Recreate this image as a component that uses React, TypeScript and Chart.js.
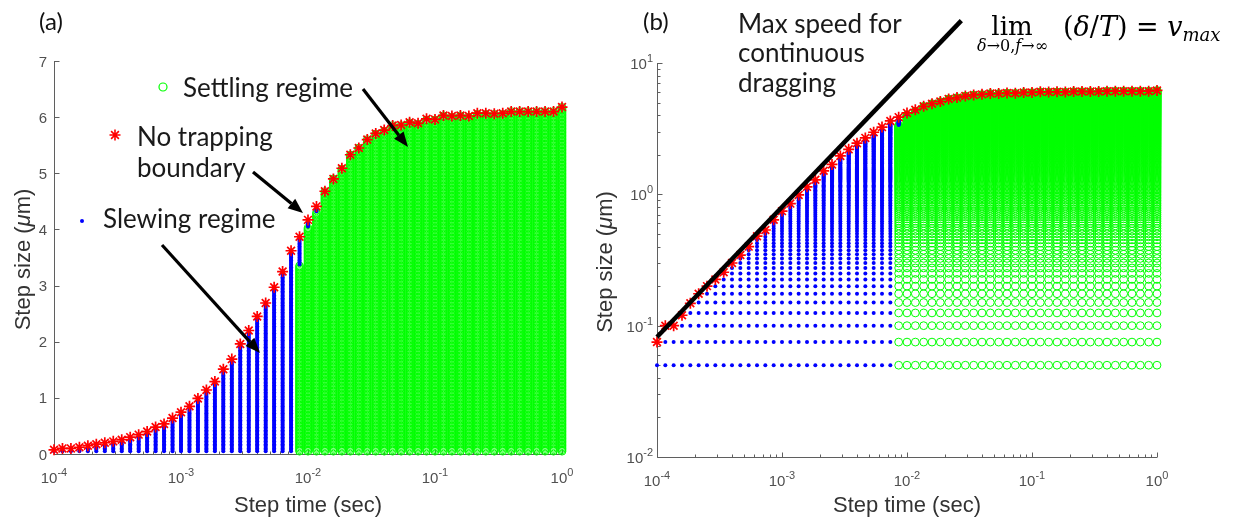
import React, { useEffect, useRef } from "react";
import { Chart, registerables } from "chart.js";

Chart.register(...registerables);

// ---------------- data ----------------
// step times (sec), 15 per decade from 1e-4 to 1
const stepTimes: number[] = [
  1.0e-4, 1.166e-4, 1.359e-4, 1.585e-4, 1.848e-4, 2.154e-4, 2.512e-4, 2.929e-4, 3.415e-4, 3.981e-4, 4.642e-4, 5.412e-4, 6.31e-4, 7.356e-4, 8.577e-4,
  1.0e-3, 1.166e-3, 1.359e-3, 1.585e-3, 1.848e-3, 2.154e-3, 2.512e-3, 2.929e-3, 3.415e-3, 3.981e-3, 4.642e-3, 5.412e-3, 6.31e-3, 7.356e-3, 8.577e-3,
  1.0e-2, 1.166e-2, 1.359e-2, 1.585e-2, 1.848e-2, 2.154e-2, 2.512e-2, 2.929e-2, 3.415e-2, 3.981e-2, 4.642e-2, 5.412e-2, 6.31e-2, 7.356e-2, 8.577e-2,
  1.0e-1, 1.166e-1, 1.359e-1, 1.585e-1, 1.848e-1, 2.154e-1, 2.512e-1, 2.929e-1, 3.415e-1, 3.981e-1, 4.642e-1, 5.412e-1, 6.31e-1, 7.356e-1, 8.577e-1,
  1.0,
];

// no-trapping boundary step size (um) for each step time
const noTrappingBoundary: number[] = [
  0.075, 0.1, 0.1, 0.12, 0.148, 0.175, 0.2, 0.225, 0.255, 0.3,
  0.345, 0.4, 0.48, 0.535, 0.64, 0.745, 0.85, 0.99, 1.14, 1.29,
  1.51, 1.69, 1.96, 2.2, 2.45, 2.69, 2.97, 3.25, 3.62, 3.87,
  4.17, 4.41, 4.68, 4.9, 5.09, 5.33, 5.45, 5.6, 5.71, 5.77,
  5.85, 5.86, 5.91, 5.89, 5.97, 5.96, 6.03, 6.02, 6.03, 6.02,
  6.07, 6.07, 6.06, 6.07, 6.1, 6.1, 6.1, 6.1, 6.1, 6.1,
  6.18,
];

// simulated step sizes (um)
const stepSizeLevels: number[] = [
  0.05, 0.075, 0.1, 0.125, 0.15, 0.175, 0.2, 0.225,
  0.25, 0.275, 0.3, 0.325, 0.35, 0.375, 0.4, 0.425, 0.45, 0.475,
  0.5, 0.525, 0.55, 0.575, 0.6, 0.625, 0.65, 0.675, 0.7, 0.725,
  0.75, 0.775, 0.8, 0.825, 0.85, 0.875, 0.9, 0.925, 0.95, 0.975,
  1, 1.025, 1.05, 1.075, 1.1, 1.125, 1.15, 1.175, 1.2, 1.225,
  1.25, 1.275, 1.3, 1.325, 1.35, 1.375, 1.4, 1.425, 1.45, 1.475,
  1.5, 1.525, 1.55, 1.575, 1.6, 1.625, 1.65, 1.675, 1.7, 1.725,
  1.75, 1.775, 1.8, 1.825, 1.85, 1.875, 1.9, 1.925, 1.95, 1.975,
  2, 2.025, 2.05, 2.075, 2.1, 2.125, 2.15, 2.175, 2.2, 2.225,
  2.25, 2.275, 2.3, 2.325, 2.35, 2.375, 2.4, 2.425, 2.45, 2.475,
  2.5, 2.525, 2.55, 2.575, 2.6, 2.625, 2.65, 2.675, 2.7, 2.725,
  2.75, 2.775, 2.8, 2.825, 2.85, 2.875, 2.9, 2.925, 2.95, 2.975,
  3, 3.025, 3.05, 3.075, 3.1, 3.125, 3.15, 3.175, 3.2, 3.225,
  3.25, 3.275, 3.3, 3.325, 3.35, 3.375, 3.4, 3.425, 3.45, 3.475,
  3.5, 3.525, 3.55, 3.575, 3.6, 3.625, 3.65, 3.675, 3.7, 3.725,
  3.75, 3.775, 3.8, 3.825, 3.85, 3.875, 3.9, 3.925, 3.95, 3.975,
  4, 4.025, 4.05, 4.075, 4.1, 4.125, 4.15, 4.175, 4.2, 4.225,
  4.25, 4.275, 4.3, 4.325, 4.35, 4.375, 4.4, 4.425, 4.45, 4.475,
  4.5, 4.525, 4.55, 4.575, 4.6, 4.625, 4.65, 4.675, 4.7, 4.725,
  4.75, 4.775, 4.8, 4.825, 4.85, 4.875, 4.9, 4.925, 4.95, 4.975,
  5, 5.025, 5.05, 5.075, 5.1, 5.125, 5.15, 5.175, 5.2, 5.225,
  5.25, 5.275, 5.3, 5.325, 5.35, 5.375, 5.4, 5.425, 5.45, 5.475,
  5.5, 5.525, 5.55, 5.575, 5.6, 5.625, 5.65, 5.675, 5.7, 5.725,
  5.75, 5.775, 5.8, 5.825, 5.85, 5.875, 5.9, 5.925, 5.95, 5.975,
  6, 6.025, 6.05, 6.075, 6.1, 6.125, 6.15, 6.175,
];

// columns from this index on settle; the first few keep slewing points at the top
const settlingStartIndex = 29;
const transitionSettlingTop: number[] = [3.35, 4.025, 4.3];

// max speed for continuous dragging (panel b)
const maxSpeedTimes: number[] = [1.0e-4, 0.0272];
const maxSpeedSizes: number[] = [0.082, 21.0];

// axis ticks
const linearSizeTicks: number[] = [0, 1, 2, 3, 4, 5, 6, 7];
const logTimeTicks: number[] = [1e-4, 1e-3, 1e-2, 1e-1, 1];
const logTimeTickExps: string[] = ["-4", "-3", "-2", "-1", "0"];
const logSizeTicks: number[] = [1e-2, 1e-1, 1, 10];
const logSizeTickExps: string[] = ["-2", "-1", "0", "1"];

// ---------------- build point sets ----------------
type P = { x: number; y: number };
function splitRegimes() {
  const slewing: P[] = [];
  const settling: P[] = [];
  stepTimes.forEach((t, i) => {
    const top = noTrappingBoundary[i];
    let settleTop = -Infinity;
    if (i >= settlingStartIndex) {
      const tr = transitionSettlingTop[i - settlingStartIndex];
      settleTop = tr === undefined ? Infinity : tr;
    }
    for (const L of stepSizeLevels) {
      if (L > top + 1e-9) break;
      if (L <= settleTop + 1e-9) settling.push({ x: t, y: L });
      else slewing.push({ x: t, y: L });
    }
  });
  const boundary: P[] = stepTimes.map((t, i) => ({ x: t, y: noTrappingBoundary[i] }));
  return { slewing, settling, boundary };
}

// ---------------- drawing helpers ----------------
const UI_FONT = '"Liberation Sans", Arial, sans-serif';
const NOTE_FONT = 'Lato, "Open Sans", sans-serif';
const MATH_FONT = '"DejaVu Serif", "Liberation Serif", serif';
const AXIS_COLOR = "#5f5f5f";
const LABEL_COLOR = "#505050";
const TITLE_COLOR = "#333333";
const OFFSET_B = 580;
const NOTE_SIZE = 26;

type Run = { t: string; size: number; it?: boolean; dy?: number };

function drawRuns(ctx: CanvasRenderingContext2D, runs: Run[], x: number, y: number, family: string, align: "left" | "center" | "right" = "left") {
  let w = 0;
  for (const r of runs) {
    ctx.font = `${r.it ? "italic " : ""}${r.size}px ${family}`;
    w += ctx.measureText(r.t).width;
  }
  let cx = align === "center" ? x - w / 2 : align === "right" ? x - w : x;
  ctx.textAlign = "left";
  for (const r of runs) {
    ctx.font = `${r.it ? "italic " : ""}${r.size}px ${family}`;
    ctx.fillText(r.t, cx, y + (r.dy || 0));
    cx += ctx.measureText(r.t).width;
  }
  return cx;
}

function powRuns(exp: string): Run[] {
  return [{ t: "10", size: 15 }, { t: exp, size: 11, dy: -7 }];
}

function minorLog(majors: number[]) {
  const out: number[] = [];
  for (let k = 0; k < majors.length - 1; k++) for (let m = 2; m <= 9; m++) out.push(majors[k] * m);
  return out;
}

function arrow(ctx: CanvasRenderingContext2D, x1: number, y1: number, x2: number, y2: number) {
  const a = Math.atan2(y2 - y1, x2 - x1);
  const head = 15, hw = 6;
  const bx = x2 - head * Math.cos(a), by = y2 - head * Math.sin(a);
  ctx.save();
  ctx.strokeStyle = "#000";
  ctx.fillStyle = "#000";
  ctx.lineWidth = 3.2;
  ctx.beginPath();
  ctx.moveTo(x1, y1);
  ctx.lineTo(bx, by);
  ctx.stroke();
  ctx.beginPath();
  ctx.moveTo(x2, y2);
  ctx.lineTo(bx + hw * Math.sin(a), by - hw * Math.cos(a));
  ctx.lineTo(bx - hw * Math.sin(a), by + hw * Math.cos(a));
  ctx.closePath();
  ctx.fill();
  ctx.restore();
}

function starMark(ctx: CanvasRenderingContext2D, x: number, y: number, r: number) {
  ctx.save();
  ctx.strokeStyle = "#ff0000";
  ctx.lineWidth = 1.6;
  ctx.beginPath();
  for (let k = 0; k < 4; k++) {
    const a = (k * Math.PI) / 4;
    ctx.moveTo(x - r * Math.cos(a), y - r * Math.sin(a));
    ctx.lineTo(x + r * Math.cos(a), y + r * Math.sin(a));
  }
  ctx.stroke();
  ctx.restore();
}

function drawAxes(chart: any, logY: boolean) {
  const { ctx, chartArea: ca } = chart;
  const xs = chart.scales.x, ys = chart.scales.y;
  ctx.save();
  ctx.strokeStyle = AXIS_COLOR;
  ctx.lineWidth = 1;
  ctx.beginPath();
  const L = Math.round(ca.left) + 0.5, B = Math.round(ca.bottom) + 0.5;
  ctx.moveTo(L, ca.top);
  ctx.lineTo(L, B);
  ctx.lineTo(ca.right, B);
  for (const v of logTimeTicks) {
    const px = Math.round(xs.getPixelForValue(v)) + 0.5;
    ctx.moveTo(px, B);
    ctx.lineTo(px, B - 5);
  }
  for (const v of minorLog(logTimeTicks)) {
    const px = Math.round(xs.getPixelForValue(v)) + 0.5;
    ctx.moveTo(px, B);
    ctx.lineTo(px, B - 3);
  }
  const yt = logY ? logSizeTicks : linearSizeTicks;
  for (const v of yt) {
    const py = Math.round(ys.getPixelForValue(v)) + 0.5;
    ctx.moveTo(L, py);
    ctx.lineTo(L + 5, py);
  }
  if (logY) {
    for (const v of minorLog(logSizeTicks)) {
      const py = Math.round(ys.getPixelForValue(v)) + 0.5;
      ctx.moveTo(L, py);
      ctx.lineTo(L + 3, py);
    }
  }
  ctx.stroke();
  ctx.restore();
}

function drawAxisLabels(chart: any, logY: boolean, yTitleX: number) {
  const { ctx, chartArea: ca } = chart;
  const xs = chart.scales.x, ys = chart.scales.y;
  ctx.save();
  ctx.fillStyle = LABEL_COLOR;
  ctx.textBaseline = "alphabetic";
  logTimeTicks.forEach((v, k) => {
    drawRuns(ctx, powRuns(logTimeTickExps[k]), xs.getPixelForValue(v), ca.bottom + 29, UI_FONT, "center");
  });
  if (logY) {
    logSizeTicks.forEach((v, k) => {
      drawRuns(ctx, powRuns(logSizeTickExps[k]), ca.left - 4, ys.getPixelForValue(v) + 6, UI_FONT, "right");
    });
  } else {
    ctx.font = `15px ${UI_FONT}`;
    ctx.textAlign = "right";
    for (const v of linearSizeTicks) ctx.fillText(String(v), ca.left - 7, ys.getPixelForValue(v) + 5.5);
  }
  // titles
  ctx.fillStyle = TITLE_COLOR;
  drawRuns(ctx, [{ t: "Step time (sec)", size: 22 }], (ca.left + ca.right) / 2, 512, UI_FONT, "center");
  ctx.save();
  ctx.translate(yTitleX, (ca.top + ca.bottom) / 2 + 2);
  ctx.rotate(-Math.PI / 2);
  drawRuns(ctx, [{ t: "Step size (", size: 22 }, { t: "\u03bc", size: 22, it: true }, { t: "m)", size: 22 }], 0, 0, UI_FONT, "center");
  ctx.restore();
  ctx.restore();
}

const panelAPlugin = {
  id: "panelA",
  beforeDatasetsDraw(chart: any) {
    drawAxes(chart, false);
  },
  afterDraw(chart: any) {
    const ctx: CanvasRenderingContext2D = chart.ctx;
    drawAxisLabels(chart, false, 30);
    ctx.save();
    ctx.fillStyle = "#111";
    drawRuns(ctx, [{ t: "(a)", size: 24 }], 39, 30, NOTE_FONT);
    // legend-like notes
    ctx.strokeStyle = "#00ff00";
    ctx.lineWidth = 1.2;
    ctx.beginPath();
    ctx.arc(163, 87, 4, 0, Math.PI * 2);
    ctx.stroke();
    starMark(ctx, 115, 135, 5.5);
    ctx.fillStyle = "#0000ff";
    ctx.beginPath();
    ctx.arc(82, 221, 2, 0, Math.PI * 2);
    ctx.fill();
    ctx.fillStyle = "#1a1a1a";
    drawRuns(ctx, [{ t: "Settling regime", size: NOTE_SIZE }], 183, 97, NOTE_FONT);
    drawRuns(ctx, [{ t: "No trapping", size: NOTE_SIZE }], 137, 146, NOTE_FONT);
    drawRuns(ctx, [{ t: "boundary", size: NOTE_SIZE }], 137, 177, NOTE_FONT);
    drawRuns(ctx, [{ t: "Slewing regime", size: NOTE_SIZE }], 103, 228, NOTE_FONT);
    ctx.restore();
    arrow(ctx, 363, 89, 408, 147);
    arrow(ctx, 253, 172, 303, 213);
    arrow(ctx, 162, 245, 260, 353);
  },
};

const panelBPlugin = {
  id: "panelB",
  beforeDatasetsDraw(chart: any) {
    drawAxes(chart, true);
  },
  afterDraw(chart: any) {
    const ctx: CanvasRenderingContext2D = chart.ctx;
    drawAxisLabels(chart, true, 612 - OFFSET_B);
    ctx.save();
    ctx.fillStyle = "#111";
    drawRuns(ctx, [{ t: "(b)", size: 24 }], 643 - OFFSET_B, 30, NOTE_FONT);
    ctx.fillStyle = "#1a1a1a";
    drawRuns(ctx, [{ t: "Max speed for", size: NOTE_SIZE }], 738 - OFFSET_B, 33, NOTE_FONT);
    drawRuns(ctx, [{ t: "continuous", size: NOTE_SIZE }], 738 - OFFSET_B, 62, NOTE_FONT);
    drawRuns(ctx, [{ t: "dragging", size: NOTE_SIZE }], 738 - OFFSET_B, 92, NOTE_FONT);
    // formula
    ctx.fillStyle = "#000";
    drawRuns(ctx, [{ t: "lim", size: 26 }], 1012 - OFFSET_B, 35, MATH_FONT, "center");
    drawRuns(
      ctx,
      [
        { t: "\u03b4", size: 16, it: true },
        { t: "\u21920,", size: 16 },
        { t: "f", size: 16, it: true },
        { t: "\u2192\u221e", size: 16 },
      ],
      1012.5 - OFFSET_B,
      51,
      MATH_FONT,
      "center"
    );
    drawRuns(
      ctx,
      [
        { t: "(", size: 27 },
        { t: "\u03b4", size: 27, it: true },
        { t: "/", size: 27 },
        { t: "T", size: 27, it: true },
        { t: ")", size: 27 },
        { t: " = ", size: 27 },
        { t: "v", size: 27, it: true },
        { t: "max", size: 18, it: true, dy: 5 },
      ],
      1063 - OFFSET_B,
      36,
      MATH_FONT
    );
    ctx.restore();
  },
};

// ---------------- charts ----------------
function baseOptions(yScale: any, padding: any) {
  return {
    responsive: false,
    animation: false as const,
    events: [] as any[],
    layout: { padding },
    plugins: { legend: { display: false }, tooltip: { enabled: false }, title: { display: false } },
    scales: {
      x: { type: "logarithmic", min: 1e-4, max: 1, display: false },
      y: { ...yScale, display: false },
    },
  };
}

function regimeDatasets() {
  const { slewing, settling, boundary } = splitRegimes();
  return [
    {
      label: "No trapping boundary",
      data: boundary,
      pointStyle: "star",
      pointRadius: 5.5,
      borderColor: "#ff0000",
      backgroundColor: "#ff0000",
      pointBorderWidth: 1.7,
      showLine: false,
      clip: false,
    },
    {
      label: "Slewing regime",
      data: slewing,
      pointStyle: "circle",
      pointRadius: 2,
      pointBorderWidth: 0,
      backgroundColor: "#0000ff",
      borderColor: "#0000ff",
      showLine: false,
      clip: false,
    },
    {
      label: "Settling regime",
      data: settling,
      pointStyle: "circle",
      pointRadius: 3.9,
      pointBorderWidth: 1,
      backgroundColor: "rgba(0,0,0,0)",
      borderColor: "#00ff00",
      showLine: false,
      clip: false,
    },
  ];
}

function buildA(): any {
  return {
    type: "scatter",
    data: { datasets: regimeDatasets() },
    options: baseOptions({ type: "linear", min: 0, max: 7 }, { left: 54, right: 18, top: 61, bottom: 68 }),
    plugins: [panelAPlugin],
  };
}

function buildB(): any {
  const line = {
    label: "Max speed for continuous dragging",
    data: maxSpeedTimes.map((t, i) => ({ x: t, y: maxSpeedSizes[i] })),
    showLine: true,
    borderColor: "#000000",
    borderWidth: 4.5,
    pointRadius: 0,
    clip: false,
  };
  return {
    type: "scatter",
    data: { datasets: [line, ...regimeDatasets()] },
    options: baseOptions({ type: "logarithmic", min: 0.01, max: 10 }, { left: 77, right: 81, top: 63, bottom: 65 }),
    plugins: [panelBPlugin],
  };
}

function Panel({ build, left, width }: { build: () => any; left: number; width: number }) {
  const ref = useRef<HTMLCanvasElement>(null);
  useEffect(() => {
    const chart = new Chart(ref.current as HTMLCanvasElement, build());
    return () => chart.destroy();
  }, []);
  return (
    <canvas
      ref={ref}
      width={width}
      height={522}
      style={{ position: "absolute", left, top: 0, width, height: 522 }}
    />
  );
}

export default function App() {
  return (
    <div style={{ position: "absolute", left: 0, top: 0, width: 1238, height: 522, background: "#fff", overflow: "hidden" }}>
      <Panel build={buildA} left={0} width={580} />
      <Panel build={buildB} left={OFFSET_B} width={1238 - OFFSET_B} />
    </div>
  );
}
